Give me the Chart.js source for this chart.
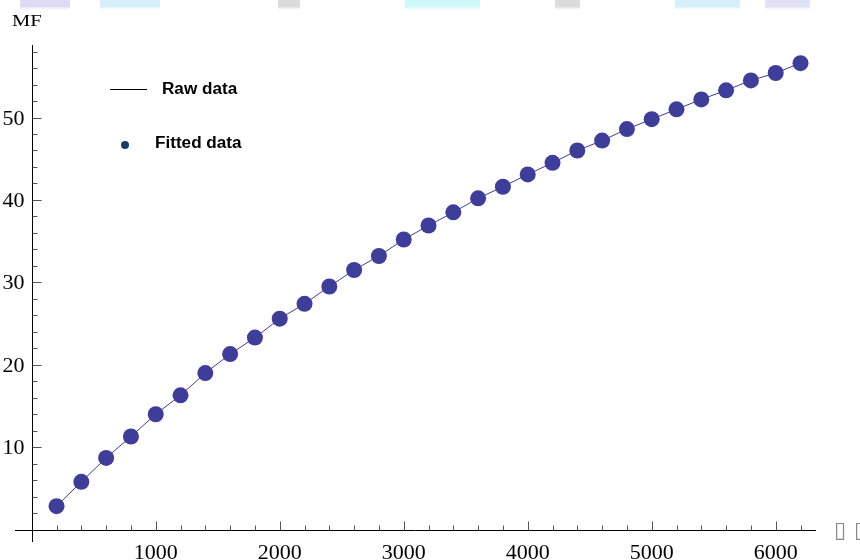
<!DOCTYPE html>
<html>
<head>
<meta charset="utf-8">
<script src="https://cdn.jsdelivr.net/npm/chart.js@4/dist/chart.umd.min.js"></script>
<style>
html,body{margin:0;padding:0;background:#fff;}
#c{display:block;}
</style>
</head>
<body>
<canvas id="c" width="860" height="560"></canvas>
<script>
// ---- data ----
const voltages = [200,400,600,800,1000,1200,1400,1600,1800,2000,2200,2400,2600,2800,3000,
  3200,3400,3600,3800,4000,4200,4400,4600,4800,5000,5200,5400,5600,5800,6000,6200];
const rawMF = [2.85,5.8,8.7,11.3,14.0,16.3,19.0,21.3,23.3,25.6,27.4,29.5,31.5,33.2,35.2,
  36.9,38.5,40.2,41.6,43.1,44.5,46.0,47.2,48.6,49.8,51.0,52.2,53.3,54.5,55.4,56.6];
const fittedMF = [2.85,5.8,8.7,11.3,14.0,16.3,19.0,21.3,23.3,25.6,27.4,29.5,31.5,33.2,35.2,
  36.9,38.5,40.2,41.6,43.1,44.5,46.0,47.2,48.6,49.8,51.0,52.2,53.3,54.5,55.4,56.6];
const xTickLabels = [1000,2000,3000,4000,5000,6000];
const yTickLabels = [10,20,30,40,50];
const xMinorStep = 200;
const yMinorStep = 2;
const yAxisTitle = 'MF';
const xAxisTitle = ['\u25AF','\u25AF'];
const legendLabels = ['Raw data','Fitted data'];

const pts = (xs, ys) => xs.map((x,i)=>({x:x, y:ys[i]}));
const markColor = 'rgb(62,61,153)';

// draw text stretched horizontally by sx, anchored per textAlign at (x,y)
function stretchText(ctx, txt, x, y, sx){
  ctx.save();
  ctx.translate(x, y);
  ctx.scale(sx, 1);
  ctx.fillText(txt, 0, 0);
  ctx.restore();
}

const axesPlugin = {
  id:'mmaAxes',
  beforeDatasetsDraw(chart){
    const ctx = chart.ctx, xs = chart.scales.x, ys = chart.scales.y;
    const ca = chart.chartArea;
    const x0 = Math.round(xs.getPixelForValue(0)) + 0.5;
    const y0 = Math.round(ys.getPixelForValue(0)) + 0.5;
    ctx.save();
    // faint artefacts at top edge
    const bands = [[20,70,'rgba(195,195,240,0.6)'],[100,160,'rgba(185,228,248,0.6)'],[278,300,'rgba(195,195,195,0.6)'],
      [405,480,'rgba(185,245,248,0.7)'],[555,580,'rgba(195,195,195,0.6)'],[675,740,'rgba(185,228,248,0.6)'],[765,810,'rgba(205,205,240,0.6)']];
    bands.forEach(b=>{
      const g = ctx.createLinearGradient(0,0,0,11);
      g.addColorStop(0,b[2]); g.addColorStop(0.6,b[2]); g.addColorStop(1,'rgba(255,255,255,0)');
      ctx.fillStyle=g; ctx.fillRect(b[0],0,b[1]-b[0],11);
    });
    // axes lines
    ctx.strokeStyle = '#000'; ctx.lineWidth = 1;
    ctx.beginPath();
    ctx.moveTo(ca.left, y0); ctx.lineTo(ca.right, y0);
    ctx.moveTo(x0, ca.top); ctx.lineTo(x0, ca.bottom);
    ctx.stroke();
    // ticks
    ctx.strokeStyle = '#555';
    ctx.beginPath();
    for (let v = xMinorStep; v <= xs.max; v += xMinorStep) {
      const px = Math.round(xs.getPixelForValue(v)) + 0.5;
      const len = (v % 1000 === 0) ? 9 : 5;
      ctx.moveTo(px, y0); ctx.lineTo(px, y0 - len);
    }
    for (let v = yMinorStep; v <= ys.max; v += yMinorStep) {
      const py = Math.round(ys.getPixelForValue(v)) + 0.5;
      const len = (v % 10 === 0) ? 9 : 5;
      ctx.moveTo(x0, py); ctx.lineTo(x0 + len, py);
    }
    ctx.stroke();
    // tick labels
    ctx.fillStyle = '#000';
    ctx.font = '20px "Liberation Serif", "Times New Roman", serif';
    ctx.textAlign = 'center'; ctx.textBaseline = 'alphabetic';
    xTickLabels.forEach(v=>{
      stretchText(ctx, String(v), xs.getPixelForValue(v), y0 + 28.5, 1.1);
    });
    ctx.textAlign = 'right'; ctx.textBaseline = 'alphabetic';
    yTickLabels.forEach(v=>{
      stretchText(ctx, String(v), x0 - 8, ys.getPixelForValue(v) + 7, 1.1);
    });
    ctx.font = '16px "Liberation Serif", "Times New Roman", serif';
    ctx.textAlign = 'left';
    stretchText(ctx, yAxisTitle, 12, 26, 1.28);
    // x axis title (missing-glyph boxes)
    ctx.font = '22px "DejaVu Sans", sans-serif';
    ctx.fillStyle = '#8a8a8a';
    ctx.textBaseline = 'middle';
    ctx.fillText(xAxisTitle[0], 834, y0 + 1);
    ctx.fillText(xAxisTitle[1], 854, y0 + 1);
    // legend
    ctx.strokeStyle = '#000'; ctx.lineWidth = 1;
    ctx.beginPath(); ctx.moveTo(110, 89.5); ctx.lineTo(147, 89.5); ctx.stroke();
    ctx.fillStyle = '#000';
    ctx.font = 'bold 16px "Liberation Sans", Arial, sans-serif';
    ctx.textBaseline = 'alphabetic';
    stretchText(ctx, legendLabels[0], 162, 94, 1.07);
    ctx.fillStyle = '#1c3a6b';
    ctx.beginPath(); ctx.arc(125, 145, 4, 0, Math.PI*2); ctx.fill();
    ctx.fillStyle = '#000';
    stretchText(ctx, legendLabels[1], 155, 148, 1.07);
    ctx.restore();
  }
};

new Chart(document.getElementById('c'), {
  type: 'scatter',
  data: {
    datasets: [
      { label: legendLabels[0], data: pts(voltages, rawMF), showLine: true,
        borderColor: markColor, borderWidth: 1, pointRadius: 0, tension: 0, order: 2 },
      { label: legendLabels[1], data: pts(voltages, fittedMF), showLine: false,
        backgroundColor: markColor, borderColor: markColor, borderWidth: 0, pointRadius: 8,
        pointHoverRadius: 8, order: 1 }
    ]
  },
  options: {
    responsive: false,
    animation: false,
    devicePixelRatio: 1,
    layout: { padding: { left: 15, right: 44, top: 45, bottom: 18 } },
    plugins: { legend: { display: false }, tooltip: { enabled: false }, title: { display: false } },
    scales: {
      x: { type: 'linear', display: false, min: -135, max: 6325 },
      y: { type: 'linear', display: false, min: -1.5, max: 58.8 }
    }
  },
  plugins: [axesPlugin]
});
</script>
</body>
</html>
